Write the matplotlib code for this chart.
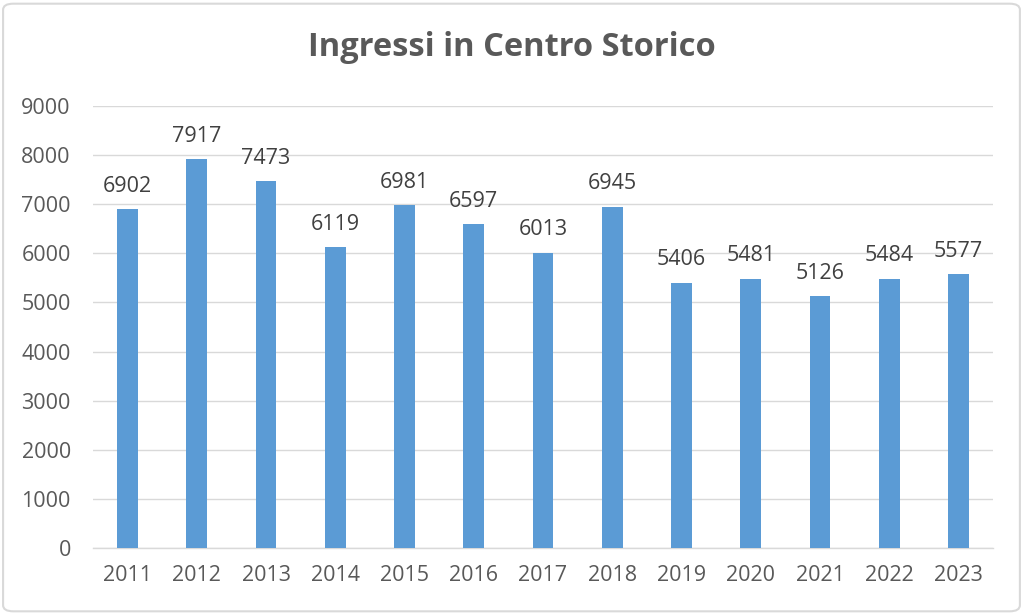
import matplotlib
matplotlib.use("Agg")
import matplotlib.pyplot as plt
from matplotlib.patches import FancyBboxPatch

years = ["2011", "2012", "2013", "2014", "2015", "2016", "2017", "2018",
         "2019", "2020", "2021", "2022", "2023"]
ingressi = [6902, 7917, 7473, 6119, 6981, 6597, 6013, 6945,
            5406, 5481, 5126, 5484, 5577]
y_ticks = [0, 1000, 2000, 3000, 4000, 5000, 6000, 7000, 8000, 9000]
title = "Ingressi in Centro Storico"

plt.rcParams['font.family'] = ['Open Sans', 'DejaVu Sans']
text_col = "#595959"
bar_col = "#5B9BD5"

fig = plt.figure(figsize=(10.24, 6.15), dpi=100)
fig.patch.set_facecolor("white")
border = FancyBboxPatch((0.003, 0.006), 0.993, 0.988,
                        boxstyle="round,pad=0,rounding_size=0.01",
                        transform=fig.transFigure, fill=False,
                        edgecolor="#D9D9D9", linewidth=1.5)
fig.patches.append(border)

ax = fig.add_axes([0.0908, 0.109, 0.879, 0.7186])
x = list(range(len(years)))
bars = ax.bar(x, ingressi, width=0.3, color=bar_col, zorder=3)
for xi, v in zip(x, ingressi):
    ax.annotate(str(v), (xi, v), xytext=(0, 9), textcoords="offset points",
                ha="center", va="bottom", fontsize=15.5, color="#404040")

ax.set_xlim(-0.5, len(years) - 0.5)
ax.set_ylim(0, 9000)
ax.set_yticks(y_ticks)
ax.set_yticklabels([str(t) for t in y_ticks])
ax.set_xticks(x)
ax.set_xticklabels(years)
ax.tick_params(axis="both", length=0, labelsize=15.5, colors=text_col)
ax.tick_params(axis="x", pad=12)
ax.tick_params(axis="y", pad=16)
ax.grid(axis="y", color="#D9D9D9", linewidth=1, zorder=0)
for s in ["top", "right", "left"]:
    ax.spines[s].set_visible(False)
ax.spines["bottom"].set_color("#D9D9D9")
ax.spines["bottom"].set_linewidth(1)

fig.text(0.5, 0.922, title, ha="center", va="center", fontsize=23.5,
         fontweight="bold", color=text_col)

fig.savefig("out.png", dpi=100)
